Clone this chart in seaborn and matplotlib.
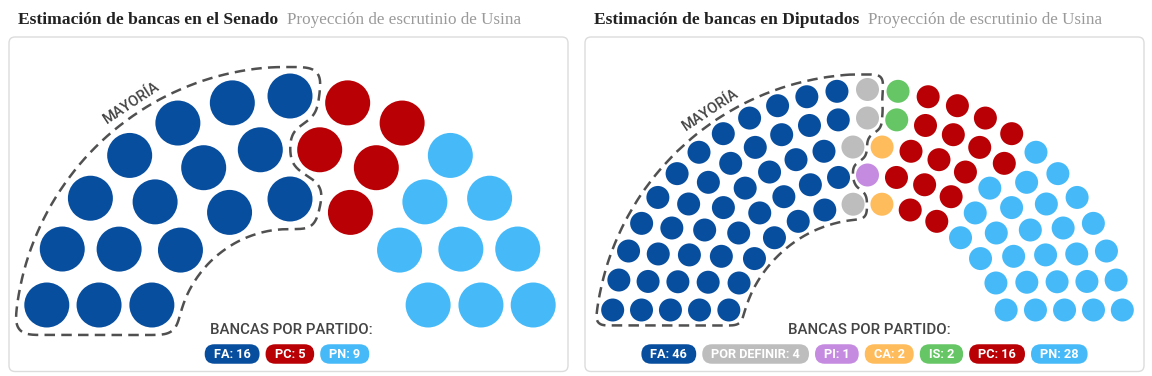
import numpy as np
import pandas as pd
import matplotlib
matplotlib.use("Agg")
import matplotlib.pyplot as plt
from matplotlib.patches import FancyBboxPatch
import seaborn as sns

# ---------------- data ----------------
senado_partidos = ["FA", "PC", "PN"]
senado_bancas = [16, 5, 9]
diputados_partidos = ["FA", "POR DEFINIR", "PI", "CA", "IS", "PC", "PN"]
diputados_bancas = [46, 4, 1, 2, 2, 16, 28]
colores = {"FA": "#084e9e", "POR DEFINIR": "#bdbdbd", "PI": "#c58be0",
           "CA": "#ffbc5c", "IS": "#66c666", "PC": "#b90004", "PN": "#46baf8"}
titulo_senado = "Estimación de bancas en el Senado"
titulo_diputados = "Estimación de bancas en Diputados"
subtitulo = "Proyección de escrutinio de Usina"
leyenda_titulo = "BANCAS POR PARTIDO:"
etiqueta_mayoria = "MAYORÍA"

# ---------------- layout (pixels) ----------------
SEN = dict(rings=[7, 10, 13], r_in=143.0, dr=51.5, cx=290.0, cy=342.0, h=37.0,
           diam=45.0, pad=7.0, sigma=9.0, box_x=9)
DIP = dict(rings=[14, 17, 20, 23, 25], r_in=143.5, dr=28.5, cx=867.5, cy=347.0, h=37.0,
           diam=23.0, pad=4.0, sigma=5.0, box_x=585)

sns.set_theme(style="white")
plt.rcParams["font.family"] = ["Roboto", "DejaVu Sans"]

fig = plt.figure(figsize=(11.52, 3.76), dpi=100)
ax = fig.add_axes([0, 0, 1, 1])
renderer = fig.canvas.get_renderer()


def escanos(L, partidos, bancas):
    rows = []
    for i, n in enumerate(L["rings"]):
        r = L["r_in"] + i * L["dr"]
        a0 = np.arcsin(L["h"] / r)
        for a in np.linspace(np.pi - a0, a0, n):
            rows.append((round(float(a), 6), r, L["cx"] + r * np.cos(a), L["cy"] - r * np.sin(a)))
    rows.sort(key=lambda t: (-t[0], -t[1]))
    df = pd.DataFrame(rows, columns=["ang", "r", "x", "y"])
    df["partido"] = np.repeat(partidos, bancas)
    return df


def contorno(df, L):
    n_may = len(df) // 2 + 1
    maj = df.iloc[:n_may][["x", "y"]].to_numpy()
    non = df.iloc[n_may:][["x", "y"]].to_numpy()
    R = L["diam"] / 2
    p = L["pad"]
    r_lo = L["r_in"] - R - p
    r_hi = L["r_in"] + (len(L["rings"]) - 1) * L["dr"] + R + p
    y_hi = L["cy"] - L["h"] + R + p
    s = L["sigma"]
    xs = np.arange(L["cx"] - r_hi - 5 * s, L["cx"] + r_hi + 5 * s, 1.0)
    ys = np.arange(L["cy"] - r_hi - 5 * s, y_hi + 5 * s, 1.0)
    X, Y = np.meshgrid(xs, ys)
    dm = np.full(X.shape, np.inf)
    dn = np.full(X.shape, np.inf)
    for px, py in maj:
        dm = np.minimum(dm, np.hypot(X - px, Y - py))
    for px, py in non:
        dn = np.minimum(dn, np.hypot(X - px, Y - py))
    rr = np.hypot(X - L["cx"], Y - L["cy"])
    M = ((dm < dn) & (rr >= r_lo) & (rr <= r_hi) & (Y <= y_hi)).astype(float)
    t = np.arange(-int(4 * s), int(4 * s) + 1)
    k = np.exp(-t ** 2 / (2 * s * s))
    k /= k.sum()
    M = np.apply_along_axis(lambda v: np.convolve(v, k, mode="same"), 0, M)
    M = np.apply_along_axis(lambda v: np.convolve(v, k, mode="same"), 1, M)
    cs = ax.contour(X, Y, M, levels=[0.5])
    segs = []
    for path in cs.get_paths():
        segs += path.to_polygons(closed_only=False)
    cs.remove()
    for seg in segs:
        ax.plot(seg[:, 0], seg[:, 1], color="#505050", lw=1.8, dashes=(4.2, 2.5),
                dash_capstyle="butt", zorder=1)
    ang = np.deg2rad(123.5)
    rt = r_hi + 11
    ax.text(L["cx"] + rt * np.cos(ang), L["cy"] - rt * np.sin(ang), etiqueta_mayoria,
            rotation=33.5, rotation_mode="anchor", ha="center", va="center",
            fontsize=10.5, fontweight="medium", color="#444444", zorder=3)


def pastillas(partidos, bancas, xc, yc):
    texts, widths = [], []
    for p, b in zip(partidos, bancas):
        t = ax.text(0, yc, f"{p}: {b}", ha="center", va="center", fontsize=9.2,
                    fontweight="bold", color="white", zorder=4)
        widths.append(t.get_window_extent(renderer=renderer).width)
        texts.append(t)
    padx, gap, h = 9.0, 6.0, 19.5
    pw = [w + 2 * padx for w in widths]
    x = xc - (sum(pw) + gap * (len(pw) - 1)) / 2
    for t, w, p in zip(texts, pw, partidos):
        ax.add_patch(FancyBboxPatch((x, yc - h / 2), w, h,
                                    boxstyle=f"round,pad=0,rounding_size={h / 2}",
                                    fc=colores[p], ec="none", zorder=3))
        t.set_x(x + w / 2)
        x += w + gap


def encabezado(x, titulo):
    t = ax.text(x, 20, titulo, family="Liberation Serif", fontweight="bold", fontsize=12.6,
                color="#222222", va="center", ha="left")
    w = t.get_window_extent(renderer=renderer).width
    ax.text(x + w + 9, 20, subtitulo, family="Liberation Serif", fontsize=12.3,
            color="#9a9a9a", va="center", ha="left")


for L, partidos, bancas, titulo in [(SEN, senado_partidos, senado_bancas, titulo_senado),
                                     (DIP, diputados_partidos, diputados_bancas, titulo_diputados)]:
    ax.add_patch(FancyBboxPatch((L["box_x"], 37), 559, 334.5,
                                boxstyle="round,pad=0,rounding_size=6",
                                fc="white", ec="#dcdcdc", lw=1.0, zorder=0))
    df = escanos(L, partidos, bancas)
    size = (L["diam"] * 72 / 100) ** 2
    sns.scatterplot(data=df, x="x", y="y", hue="partido", palette=colores, s=size,
                    linewidth=0, legend=False, ax=ax, zorder=2)
    contorno(df, L)
    ax.text(L["cx"] + 1.5, 330.5, leyenda_titulo, ha="center", va="center", fontsize=10.8,
            fontweight="medium", color="#444444", zorder=3)
    pastillas(partidos, bancas, L["cx"] - 3, 354)
    encabezado(L["box_x"] + 9, titulo)

ax.set_xlim(0, 1152)
ax.set_ylim(376, 0)
ax.axis("off")
fig.savefig("out.png", dpi=100, facecolor="white")
